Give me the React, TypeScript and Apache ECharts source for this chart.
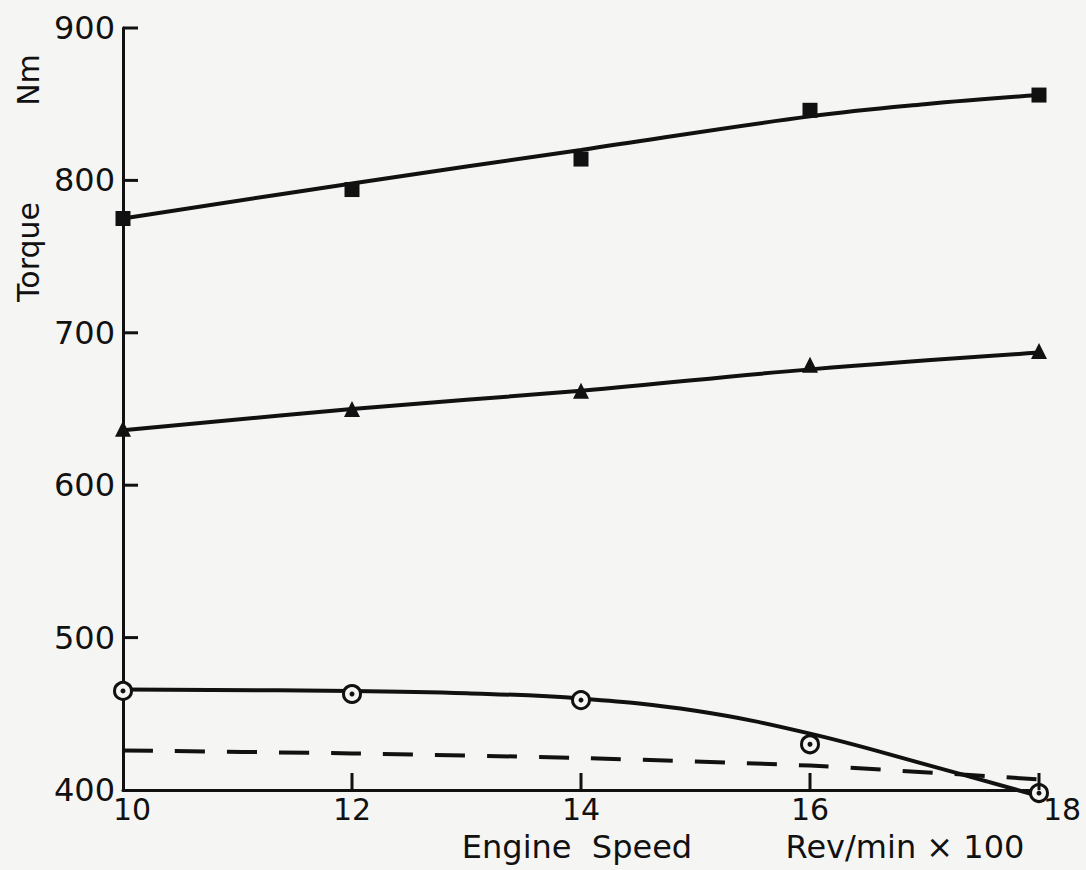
import React, { useEffect, useRef } from "react";
import * as echarts from "echarts";

const speedTicks = [10, 12, 14, 16, 18];
const torqueTicks = [400, 500, 600, 700, 800, 900];

// measured points
const squarePts: [number, number][] = [[10, 775], [12, 794], [14, 814], [16, 846], [18, 856]];
const trianglePts: [number, number][] = [[10, 637], [12, 650], [14, 662], [16, 679], [18, 688]];
const circlePts: [number, number][] = [[10, 465], [12, 463], [14, 459], [16, 430], [18, 398]];

// fitted curves
const squareFit: [number, number][] = [[10, 775], [12, 798], [14, 820], [16, 842], [17, 850], [18, 856]];
const triangleFit: [number, number][] = [[10, 636], [12, 650], [14, 662], [16, 676], [18, 687]];
const circleFit: [number, number][] = [[10, 466], [12, 465], [13, 463.5], [14, 460], [15, 452], [16, 437], [17, 417], [18, 396]];
const dashedFit: [number, number][] = [[10, 426], [12, 424], [14, 421], [16, 416], [18, 407]];

const FONT = "DejaVu Sans";
const INK = "#111";
const BG = "#f5f5f3";

export default function App() {
  const ref = useRef<HTMLDivElement>(null);
  useEffect(() => {
    if (!ref.current) return;
    const chart = echarts.init(ref.current, undefined, { renderer: "svg" });
    const lineCommon = {
      type: "line",
      showSymbol: false,
      symbol: "none",
      smooth: 0.4,
      clip: false,
      z: 2,
      silent: true,
    };
    const xTickData = speedTicks.slice(1).map((v) => [v, torqueTicks[0]]);
    const yTickData = torqueTicks.slice(1).map((v) => [speedTicks[0], v]);
    chart.setOption({
      animation: false,
      backgroundColor: BG,
      grid: { left: 123, right: 47, top: 28, bottom: 80, containLabel: false },
      xAxis: {
        type: "value",
        min: 10,
        max: 18,
        interval: 2,
        axisLine: { show: true, lineStyle: { color: INK, width: 3 } },
        axisTick: { show: false },
        splitLine: { show: false },
        axisLabel: {
          color: INK,
          fontFamily: FONT,
          fontSize: 30,
          margin: 4,
          formatter: (v: number) => (v === 18 ? "{r|18}" : v === 10 ? "{l|10}" : String(v)),
          rich: {
            r: { fontFamily: FONT, fontSize: 30, color: INK, padding: [0, 0, 0, 46] },
            l: { fontFamily: FONT, fontSize: 30, color: INK, padding: [0, 0, 0, 18] },
          },
        },
      },
      yAxis: {
        type: "value",
        min: 400,
        max: 900,
        interval: 100,
        axisLine: { show: true, lineStyle: { color: INK, width: 3 } },
        axisTick: { show: false },
        splitLine: { show: false },
        axisLabel: { color: INK, fontFamily: FONT, fontSize: 32, margin: 8 },
      },
      graphic: [
        { type: "text", x: 28, y: 252, rotation: Math.PI / 2, style: { text: "Torque", font: `30px "${FONT}"`, fill: INK, align: "center", verticalAlign: "middle" } },
        { type: "text", x: 28, y: 80, rotation: Math.PI / 2, style: { text: "Nm", font: `30px "${FONT}"`, fill: INK, align: "center", verticalAlign: "middle" } },
        { type: "text", x: 577, y: 847, style: { text: "Engine  Speed", font: `32px "${FONT}"`, fill: INK, align: "center", verticalAlign: "middle" } },
        { type: "text", x: 905, y: 847, style: { text: "Rev/min × 100", font: `32px "${FONT}"`, fill: INK, align: "center", verticalAlign: "middle" } },
      ],
      series: [
        {
          type: "custom",
          name: "xTicks",
          silent: true,
          clip: false,
          data: xTickData,
          z: 5,
          renderItem: (params: any, api: any) => {
            const p = api.coord([api.value(0), api.value(1)]);
            return {
              type: "rect",
              shape: { x: p[0] - 1.5, y: p[1] - 17, width: 3, height: 17 },
              style: { fill: INK },
            };
          },
        },
        {
          type: "custom",
          name: "yTicks",
          silent: true,
          clip: false,
          data: yTickData,
          z: 5,
          renderItem: (params: any, api: any) => {
            const p = api.coord([api.value(0), api.value(1)]);
            return {
              type: "rect",
              shape: { x: p[0], y: p[1] - 1.5, width: 15, height: 3 },
              style: { fill: INK },
            };
          },
        },
        { ...lineCommon, name: "squareFit", data: squareFit, lineStyle: { color: INK, width: 4 } },
        { ...lineCommon, name: "triangleFit", data: triangleFit, lineStyle: { color: INK, width: 4 } },
        { ...lineCommon, name: "circleFit", data: circleFit, lineStyle: { color: INK, width: 4 } },
        { ...lineCommon, name: "dashed", smooth: 0.2, data: dashedFit, lineStyle: { color: INK, width: 4, type: [30, 22] } },
        { type: "scatter", name: "squares", clip: false, data: squarePts, symbol: "rect", symbolSize: 15, itemStyle: { color: INK, opacity: 1 }, z: 3 },
        { type: "scatter", name: "triangles", clip: false, data: trianglePts, symbol: "triangle", symbolSize: 16, itemStyle: { color: INK, opacity: 1 }, z: 3 },
        { type: "scatter", name: "circles", clip: false, data: circlePts, symbol: "circle", symbolSize: 17, itemStyle: { color: BG, borderColor: INK, borderWidth: 3, opacity: 1 }, z: 3 },
        { type: "scatter", name: "circleDots", clip: false, data: circlePts, symbol: "circle", symbolSize: 5, itemStyle: { color: INK, opacity: 1 }, z: 4 },
      ],
    });
    return () => chart.dispose();
  }, []);
  return <div ref={ref} style={{ position: "absolute", left: 0, top: 0, width: 1086, height: 870 }} />;
}
